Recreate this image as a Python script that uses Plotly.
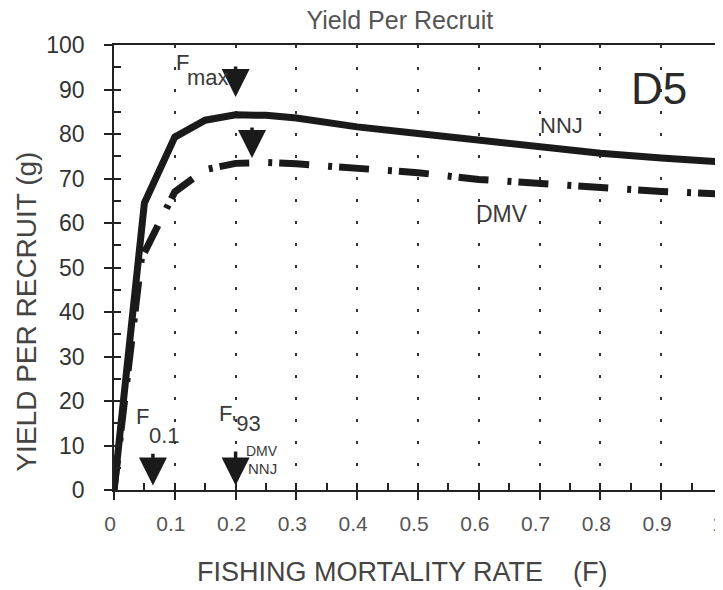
import plotly.graph_objects as go

# ---- data ----
f_nnj = [0.0, 0.05, 0.1, 0.15, 0.2, 0.25, 0.3, 0.4, 0.5, 0.6, 0.7, 0.8, 0.9, 1.0]
ypr_nnj = [0.0, 64.5, 79.3, 83.1, 84.3, 84.2, 83.6, 81.6, 80.1, 78.6, 77.0, 75.7, 74.6, 73.7]

f_dmv = [0.0, 0.045, 0.1, 0.15, 0.2, 0.25, 0.3, 0.4, 0.5, 0.6, 0.7, 0.8, 0.9, 1.0]
ypr_dmv = [0.0, 52.0, 67.0, 72.0, 73.4, 73.6, 73.3, 72.3, 71.3, 69.8, 68.8, 68.0, 67.1, 66.5]

x_ticks = [0, 0.1, 0.2, 0.3, 0.4, 0.5, 0.6, 0.7, 0.8, 0.9, 1]
x_tick_labels = ["0", "0.1", "0.2", "0.3", "0.4", "0.5", "0.6", "0.7", "0.8", "0.9", "1"]
y_ticks = [0, 10, 20, 30, 40, 50, 60, 70, 80, 90, 100]

# reference-point arrows: (F, tail value, tip value)
arrow_fmax_nnj = (0.2, 95.5, 88.3)
arrow_fmax_dmv = (0.227, 81.8, 74.6)
arrow_f01 = (0.064, 8.5, 1.0)
arrow_f93 = (0.2, 9.0, 1.0)

FONT = "Liberation Sans, Arial, Helvetica, sans-serif"
TXT = "#3a3a3a"

fig = go.Figure()
fig.add_trace(go.Scatter(x=f_nnj, y=ypr_nnj, mode="lines", name="NNJ",
                         line=dict(color="#1a1a1a", width=7), showlegend=False))
fig.add_trace(go.Scatter(x=f_dmv, y=ypr_dmv, mode="lines", name="DMV",
                         line=dict(color="#1a1a1a", width=7, dash="30px,19px,4px,7px"),
                         showlegend=False))
# invisible trace for the inner-tick overlay axes
fig.add_trace(go.Scatter(x=[0, 1], y=[0, 100], xaxis="x2", yaxis="y2", mode="markers",
                         marker=dict(opacity=0), hoverinfo="skip", showlegend=False))

annotations = []
for (xa, tail, tip) in [arrow_fmax_nnj, arrow_fmax_dmv, arrow_f01, arrow_f93]:
    annotations.append(dict(x=xa, y=tip, ax=xa, ay=tail, xref="x", yref="y",
                            axref="x", ayref="y", text="", showarrow=True,
                            arrowhead=2, arrowsize=1.6, arrowwidth=3.5,
                            arrowcolor="#1a1a1a"))

def txt(x, y, s, size, xanchor="left", color=TXT):
    annotations.append(dict(x=x, y=y, xref="x", yref="y", text=s, showarrow=False,
                            xanchor=xanchor, yanchor="middle",
                            font=dict(family=FONT, size=size, color=color)))

txt(0.098, 96.1, "F", 22)
txt(0.116, 92.6, "max", 22)
txt(0.033, 16.6, "F", 22)
txt(0.055, 12.2, "0.1", 22)
txt(0.17, 17.3, "F", 22)
txt(0.19, 15.0, "'93", 22)
txt(0.214, 8.7, "DMV", 14)
txt(0.217, 4.8, "NNJ", 15)
txt(0.897, 90.3, "D5", 44, xanchor="center", color="#2a2a2a")
txt(0.697, 82.0, "NNJ", 22)
txt(0.592, 62.0, "DMV", 23)

# axis titles
annotations.append(dict(x=0.475, y=-0.184, xref="paper", yref="paper",
                        text="FISHING MORTALITY RATE\u00a0\u00a0\u00a0\u00a0(F)", showarrow=False,
                        xanchor="center", yanchor="middle",
                        font=dict(family=FONT, size=27, color="#444")))
annotations.append(dict(x=-0.144, y=0.402, xref="paper", yref="paper",
                        text="YIELD PER RECRUIT (g)", showarrow=False, textangle=-90,
                        xanchor="center", yanchor="middle",
                        font=dict(family=FONT, size=28, color="#444")))

fig.update_layout(
    width=715, height=582,
    margin=dict(l=106, r=1, t=37, b=100),
    paper_bgcolor="white", plot_bgcolor="white",
    title=dict(text="Yield Per Recruit", x=0.548, xanchor="center", y=0.994, yanchor="top",
               pad=dict(t=0, b=0),
               font=dict(family=FONT, size=25, color="#555")),
    annotations=annotations,
    xaxis=dict(range=[0, 1], tickvals=x_ticks, ticktext=x_tick_labels, automargin=False,
               ticks="outside", ticklen=8, tickwidth=1.5, tickcolor="#222",
               showline=True, linecolor="#222", linewidth=1.5, mirror=True,
               showgrid=True, gridcolor="#333", gridwidth=2, griddash="3px,19px",
               zeroline=False, ticklabelstandoff=6, ticklabeloverflow="allow",
               ticklabelshift=-4,
               tickfont=dict(family=FONT, size=21, color="#555")),
    yaxis=dict(range=[0, 100], tickvals=y_ticks, automargin=False,
               ticks="outside", ticklen=8, tickwidth=1.5, tickcolor="#222",
               showline=True, linecolor="#222", linewidth=1.5, mirror=True,
               showgrid=False, zeroline=False, ticklabelstandoff=15,
               tickfont=dict(family=FONT, size=23, color="#333")),
    xaxis2=dict(overlaying="x", anchor="y", range=[0, 1], dtick=0.05, tick0=0, automargin=False,
                ticks="inside", ticklen=7, tickwidth=1.5, tickcolor="#222",
                showticklabels=False, showgrid=False, zeroline=False, showline=False),
    yaxis2=dict(overlaying="y", anchor="x", side="left", range=[0, 100], dtick=5, tick0=0,
                automargin=False,
                ticks="inside", ticklen=7, tickwidth=1.5, tickcolor="#222",
                showticklabels=False, showgrid=False, zeroline=False, showline=False),
)

fig.write_html("out.html")
